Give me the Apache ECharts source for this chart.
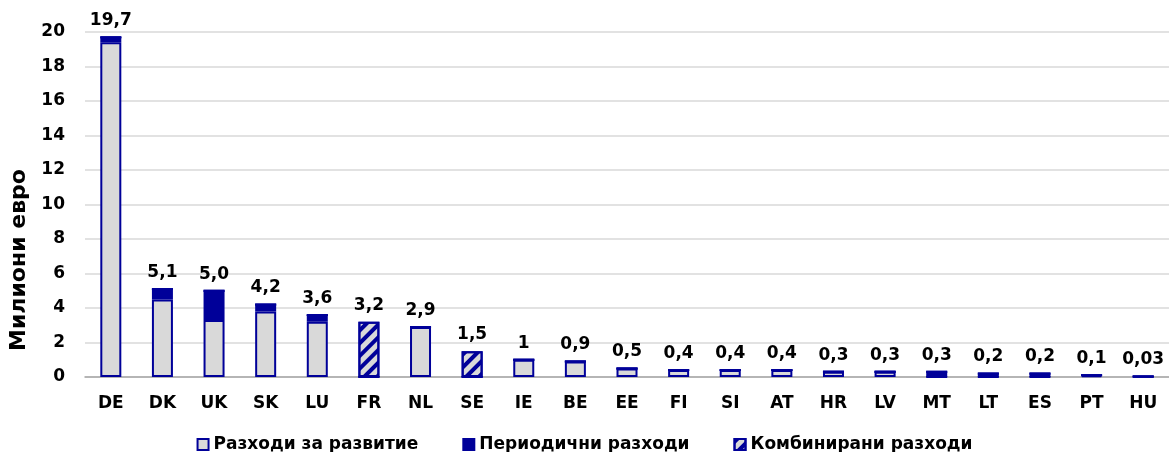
<!DOCTYPE html>
<html><head><meta charset="utf-8">
<script src="https://cdn.jsdelivr.net/npm/echarts@6/dist/echarts.min.js"></script>
<style>html,body{margin:0;padding:0;background:#fff}#c{width:1169px;height:452px}</style>
</head><body><div id="c"></div>
<script>
const categories = ['DE','DK','UK','SK','LU','FR','NL','SE','IE','BE','EE','FI','SI','AT','HR','LV','MT','LT','ES','PT','HU'];
const developmentCosts = [19.4,4.5,3.3,3.8,3.2,0,2.9,0,1,0.9,0.5,0.4,0.4,0.4,0.3,0.3,0,0,0,0.1,0.03];
const periodicCosts    = [0.3,0.6,1.7,0.4,0.4,0,0,0,0,0,0,0,0,0,0,0,0.3,0.2,0.2,0,0];
const combinedCosts    = [0,0,0,0,0,3.2,0,1.5,0,0,0,0,0,0,0,0,0,0,0,0,0];
const totalLabels = ['19,7','5,1','5,0','4,2','3,6','3,2','2,9','1,5','1','0,9','0,5','0,4','0,4','0,4','0,3','0,3','0,3','0,2','0,2','0,1','0,03'];
const yTicks = [0,2,4,6,8,10,12,14,16,18,20];
const seriesNames = ['Разходи за развитие','Периодични разходи','Комбинирани разходи'];
const yAxisTitle = 'Милиони евро';

const BLUE = '#000099', GRAY = '#D9D9D9';
const FONT = 'DejaVu Sans';
const totals = categories.map((c,i)=> +(developmentCosts[i]+periodicCosts[i]+combinedCosts[i]).toFixed(3));
const hatch = {symbol:'rect', color: BLUE, dashArrayX:[1,0], dashArrayY:[3.5,5], rotation: -Math.PI/4, symbolSize:1};

const chart = echarts.init(document.getElementById('c'));
chart.setOption({
  animation:false,
  grid:{left:85, right:-8, top:32, bottom:75},
  graphic:[{type:'text', x:19, y:260, rotation:Math.PI/2,
    style:{text:yAxisTitle, fontFamily:FONT, fontWeight:'bold', fontSize:22, fill:'#000',
      textAlign:'center', textVerticalAlign:'middle'}}],
  legend:{
    top:431, left:'center', itemWidth:11, itemHeight:11, itemGap:44,
    icon:'rect',
    textStyle:{fontFamily:FONT, fontWeight:'bold', fontSize:17, color:'#000'},
    data:seriesNames
  },
  xAxis:{type:'category', data:categories,
    axisLine:{lineStyle:{color:'#A6A6A6', width:1.5}}, axisTick:{show:false},
    axisLabel:{fontFamily:FONT, fontWeight:'bold', fontSize:17, color:'#000', margin:18, interval:0}},
  yAxis:{type:'value', min:yTicks[0], max:yTicks[yTicks.length-1], interval:2,
    axisLine:{show:false}, axisTick:{show:false},
    axisLabel:{fontFamily:FONT, fontWeight:'bold', fontSize:17, color:'#000', margin:20},
    splitLine:{lineStyle:{color:'#D9D9D9', width:1.5}}},
  series:[
    {name:seriesNames[0], type:'bar', stack:'s', barWidth:21, data:developmentCosts,
      itemStyle:{color:GRAY, borderColor:BLUE, borderWidth:2}},
    {name:seriesNames[1], type:'bar', stack:'s', barWidth:21, data:periodicCosts,
      itemStyle:{color:BLUE, borderColor:BLUE, borderWidth:2}},
    {name:seriesNames[2], type:'bar', stack:'s', barWidth:21, data:combinedCosts,
      itemStyle:{color:GRAY, borderColor:BLUE, borderWidth:2, decal:hatch}},
    {type:'scatter', data:totals, symbolSize:0, silent:true, itemStyle:{opacity:1},
      label:{show:true, position:'top', distance:8, fontFamily:FONT, fontWeight:'bold', fontSize:17, color:'#000',
        formatter:p=>totalLabels[p.dataIndex]}}
  ]
});
</script></body></html>
